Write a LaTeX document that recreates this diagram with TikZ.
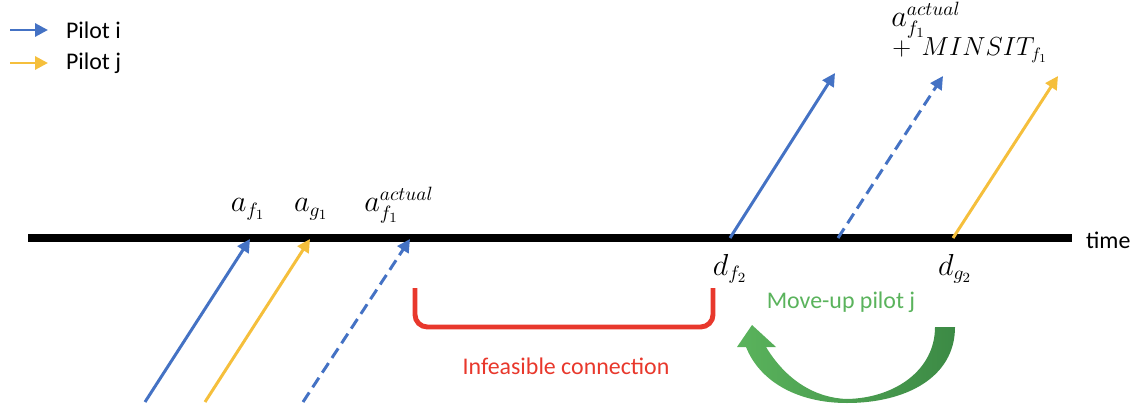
\documentclass[tikz,border=0pt]{standalone}
\usepackage{fontspec}
\setmainfont{Carlito}
\usetikzlibrary{arrows.meta}
\definecolor{cPilotI}{HTML}{4472C4}
\definecolor{cPilotJ}{HTML}{F5BF3C}
\definecolor{cBad}{HTML}{E8382C}
\definecolor{cMove}{HTML}{5AB35C}
\definecolor{cMoveDk}{HTML}{3C8A45}
\tikzset{
  >={Triangle[length=2.6mm,width=2.6mm]},
  sarr/.style={->,line width=1.7pt},
  spi/.style={sarr,cPilotI},
  spj/.style={sarr,cPilotJ},
  spd/.style={spi,dash pattern=on 6.5pt off 3.5pt},
  saxis/.style={line width=4pt,black},
  slab/.style={font=\fontsize{13.6}{16}\selectfont,inner sep=1pt},
  smath/.style={font=\fontsize{16}{19}\selectfont,inner sep=0pt},
}

\begin{document}
\begin{tikzpicture}[x=0.02cm,y=-0.02cm]
  \useasboundingbox (0,0) rectangle (1138,405);
  % legend
  \coordinate (li0) at (10,30);  \coordinate (li1) at (48,30);
  \coordinate (lj0) at (10,63);  \coordinate (lj1) at (48,63);
  \draw[spi] (li0) -- (li1);
  \draw[spj] (lj0) -- (lj1);
  \node[slab,anchor=west] (lgi) at (64,30) {Pilot i};
  \node[slab,anchor=west] (lgj) at (64,63) {Pilot j};
  % time axis
  \coordinate (t0) at (28,238); \coordinate (t1) at (1072,238);
  \draw[saxis] (t0) -- (t1);
  \node[slab,anchor=west] (tm) at (1084,240) {time};
  % arrivals
  \coordinate (af0) at (145,402); \coordinate (af) at (250,239);
  \coordinate (ag0) at (205,402); \coordinate (ag) at (310,239);
  \coordinate (aa0) at (303,402); \coordinate (aa) at (410,239);
  \draw[spi] (af0) -- (af);
  \draw[spj] (ag0) -- (ag);
  \draw[spd] (aa0) -- (aa);
  \node[smath,anchor=base] (laf) at (248,212) {$a_{f_1}$};
  \node[smath,anchor=base] (lag) at (311,212) {$a_{g_1}$};
  \node[smath,anchor=base] (laa) at (399,212) {$a_{f_1}^{actual}$};
  % departures
  \coordinate (df) at (730,238); \coordinate (df1) at (835,73);
  \coordinate (dm) at (838,238); \coordinate (dm1) at (943,76);
  \coordinate (dg) at (953,238); \coordinate (dg1) at (1058,76);
  \draw[spi] (df) -- (df1);
  \draw[spd] (dm) -- (dm1);
  \draw[spj] (dg) -- (dg1);
  \node[smath,anchor=base] (ldf) at (730,275) {$d_{f_2}$};
  \node[smath,anchor=base] (ldg) at (955,275) {$d_{g_2}$};
  \node[smath,anchor=base west] (lmin1) at (891,27) {$a_{f_1}^{actual}$};
  \node[smath,anchor=base west,scale=0.86,transform shape]
    (lmin2) at (892,56) {$+\hspace{7pt}MINSIT_{f_1}$};
  % infeasible connection
  \coordinate (bl) at (415,288); \coordinate (br) at (713,288);
  \draw[cBad,line width=2.8pt,rounded corners=7pt]
    (bl) -- ++(0,39) -| (br);
  \node[slab,cBad] (lbad) at (566,366) {Infeasible connection};
  % move-up
  \node[slab,cMove] (lmv) at (841,302) {Move-up pilot j};
  \shade[left color=cMove,right color=cMoveDk]
    (955,327) .. controls (955,378) and (905,403) .. (847,403)
    .. controls (798,403) and (760,382) .. (746,347)
    -- (737,347) -- (752,325) -- (776,347) -- (766,347)
    .. controls (786,380) and (815,398) .. (847,399)
    .. controls (895,398) and (935,370) .. (935,327) -- cycle;
\end{tikzpicture}
\end{document}
